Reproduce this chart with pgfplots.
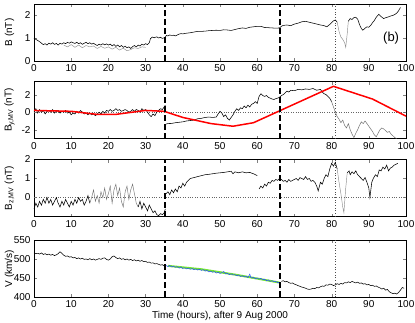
\documentclass[border=0pt]{standalone}
\usepackage{fontspec}
\setmainfont{Liberation Sans}
\usepackage{pgfplots}
\pgfplotsset{compat=1.18}

\definecolor{mlred}{rgb}{1,0,0}
\definecolor{fitgreen}{rgb}{0.45,0.9,0.2}
\definecolor{datblue}{rgb}{0.15,0.3,1}

\pgfplotsset{
  panel/.style={
    scale only axis, width=372pt, height=57pt, anchor=north west,
    xmin=0, xmax=100, xtick={0,10,...,100},
    tick align=inside, major tick length=3pt,
    ticklabel style={font=\fontsize{10}{12}\selectfont},
    label style={font=\fontsize{10}{12}\selectfont},
    /pgf/number format/assume math mode=true,
    ylabel style={at={(axis description cs:-0.066,0.5)}, anchor=center},
    axis line style={line width=0.5pt},
  },
  trace/.style={black, line width=0.55pt},
  faint/.style={black!45, line width=0.45pt},
  event/.style={black, line width=2pt, dash pattern=on 6pt off 3pt},
  mark81/.style={black!70, line width=0.7pt, dotted},
  zero/.style={black!60, line width=0.4pt, dotted},
}

\begin{document}
\begin{tikzpicture}
% ---- B ----
\begin{axis}[panel, at={(0pt,0pt)}, ymin=0, ymax=2.5, ytick={0,1,2}, ylabel={B (nT)}]
  \addplot[mark81] coordinates {(81,0) (81,2.5)};
  \addplot[faint] coordinates {
    (8,0.70) (9,0.62) (10,0.72) (11,0.60) (12,0.70) (13,0.58) (14,0.68) (15,0.62)
    (16,0.66) (17,0.55) (18,0.64) (19,0.56) (20,0.62) (21,0.52) (22,0.60) (23,0.48)
    (24,0.56) (25,0.45) (26,0.50) (27,0.58) (28,0.55) (29,0.62) (30,0.60)
  };
  \addplot[trace] coordinates {
    (0,1.00) (0.5,0.95) (1,0.90) (1.5,0.85) (2,0.78) (2.5,0.72) (3,0.76) (3.5,0.70)
    (4,0.78) (4.5,0.74) (5,0.80) (5.5,0.73) (6,0.77) (6.5,0.70) (7,0.78) (7.5,0.74)
    (8,0.80) (8.5,0.76) (9,0.82) (9.5,0.78) (10,0.84) (10.5,0.80) (11,0.77) (11.5,0.82)
    (12,0.76) (12.5,0.80) (13,0.73) (13.5,0.78) (14,0.82) (14.5,0.76) (15,0.80) (15.5,0.74)
    (16,0.78) (16.5,0.72) (17,0.68) (17.5,0.74) (18,0.70) (18.5,0.76) (19,0.71) (19.5,0.75)
    (20,0.70) (20.5,0.74) (21,0.66) (21.5,0.72) (22,0.64) (22.5,0.70) (23,0.62) (23.5,0.68)
    (24,0.60) (24.5,0.65) (25,0.58) (25.5,0.62) (26,0.55) (26.5,0.63) (27,0.68) (27.5,0.62)
    (28,0.70) (28.5,0.66) (29,0.74) (29.5,0.70) (30,0.76) (30.5,0.72) (31,0.80) (31.3,0.98)
    (31.8,1.05) (32.3,1.02) (33,1.06) (33.5,1.01) (34,1.04) (34.5,0.99) (35,1.02) (35.3,1.05)
    (35.6,1.12) (36,1.10) (36.5,1.14) (37,1.12) (37.5,1.13) (38,1.10) (38.5,1.14) (39,1.18)
    (39.5,1.20) (40,1.19) (41,1.22) (42,1.24) (43,1.27) (44,1.30) (45,1.30) (46,1.31)
    (47,1.33) (48,1.34) (49,1.35) (50,1.34) (51,1.37) (52,1.36) (53,1.34) (54,1.38)
    (55,1.42) (56,1.45) (57,1.43) (58,1.48) (59,1.50) (60,1.52) (61,1.52) (62,1.47)
    (63,1.46) (64,1.45) (65,1.44) (66,1.45) (66.5,1.52) (67,1.56) (68,1.58) (69,1.55)
    (70,1.62) (71,1.66) (72,1.72) (73,1.74) (74,1.70) (75,1.66) (76,1.62) (77,1.58)
    (78,1.55) (78.7,1.50) (79.5,1.60) (80,1.68) (80.5,1.76) (81,1.80) (81.5,1.70)
  };
  \addplot[faint] coordinates {
    (81.5,1.70) (82,1.30) (82.5,1.05) (83,0.95) (83.5,0.80) (83.8,0.60) (84.2,1.20) (84.5,1.75)
  };
  \addplot[trace] coordinates {
    (84.5,1.75) (85,1.86) (85.5,1.82) (86,1.90) (86.5,1.92) (87,1.84) (87.5,1.60) (88,1.42)
    (88.4,1.35) (89,1.44) (89.5,1.50) (90,1.48) (90.5,1.56) (91,1.68) (91.5,1.78) (92,1.92)
    (92.7,2.05) (93.3,1.95) (94,1.86) (94.5,1.90) (95,1.92) (95.5,1.95) (96,1.98) (96.5,2.00)
    (97,2.04) (97.5,2.10) (98,2.20) (98.5,2.35)
  };
  \addplot[event] coordinates {(35.3,0) (35.3,2.5)};
  \addplot[event] coordinates {(66,0) (66,2.5)};
  \node[font=\fontsize{13}{15}\selectfont] at (axis cs:96,1.0) {(b)};
\end{axis}

% ---- By,MV ----
\begin{axis}[panel, at={(0pt,-77.5pt)}, ymin=-3, ymax=3.5, ytick={-2,0,2},
  ylabel={B\textsubscript{y,MV} (nT)}]
  \addplot[zero] coordinates {(0,0) (100,0)};
  \addplot[mark81] coordinates {(81,-3) (81,3.5)};
  \addplot[trace] coordinates {
    (0,0.1) (0.5,0.4) (1,-0.1) (1.5,0.3) (2,0.0) (2.5,0.2) (3,-0.2) (3.5,0.1)
    (4,0.2) (4.5,0.0) (5,0.3) (5.5,-0.1) (6,0.1) (6.5,0.2) (7,-0.1) (7.5,0.1)
    (8,0.0) (8.5,0.2) (9,-0.1) (9.5,0.0) (10,-0.3) (10.5,-0.1) (11,-0.2) (11.5,0.1)
    (12,-0.1) (12.5,0.2) (13,0.0) (13.5,-0.2) (14,-0.1) (14.5,-0.3) (15,-0.1) (15.5,-0.3)
    (16,-0.2) (16.5,-0.4) (17,-0.2) (17.5,0.0) (18,-0.2) (18.5,0.1) (19,-0.1) (19.5,0.2)
    (20,0.1) (20.5,0.3) (21,0.1) (21.5,0.2) (22,0.4) (22.5,0.2) (23,0.3) (23.5,0.1)
    (24,0.2) (24.5,0.3) (25,0.2) (25.5,0.0) (26,0.1) (26.5,0.3) (27,0.1) (27.5,0.3)
    (28,0.2) (28.5,0.0) (29,0.4) (29.5,0.2) (30,0.3) (30.5,0.0) (31,-0.3) (31.5,-0.5)
    (32,-0.2) (32.5,-0.4) (33,0.0) (33.5,0.2) (34,0.4) (34.5,0.3) (35,0.6) (35.3,0.8)
  };
  \addplot[trace] coordinates {
    (35.5,-1.35) (36,-1.30) (37,-1.28) (38,-1.20) (39,-1.15) (40,-1.10) (41,-1.00) (42,-0.95)
    (43,-0.90) (44,-0.75) (45,-0.70) (46,-0.60) (47,-0.55) (48,-0.60) (49,-0.55) (49.5,-0.2)
    (50,0.1) (50.5,-0.1) (51,-0.5) (51.5,-0.3) (52,-0.7) (52.5,-0.9) (53,-0.6) (53.5,-0.3)
    (54,0.1) (54.5,0.4) (55,0.2) (55.5,0.5) (56,0.4) (56.5,0.7) (57,0.5) (57.5,0.8)
    (58,0.6) (58.5,0.9) (59,1.0) (59.5,1.2) (60,1.0) (60.5,1.8) (61,2.1) (61.5,1.9)
    (62,1.8) (62.5,1.9) (63,1.7) (63.5,1.6) (64,1.5) (64.5,1.45) (65,1.55) (65.5,1.6)
    (66,1.7) (66.5,1.9) (67,2.0) (67.5,2.2) (68,2.4) (68.5,2.3) (69,2.5) (70,2.45)
    (71,2.6) (72,2.55) (73,2.65) (74,2.6) (75,2.7) (76,2.5) (77,2.6) (77.5,2.3)
    (78,2.1) (78.5,2.0) (79,1.8) (79.5,1.6) (80,1.2)
  };
  \addplot[black!55, line width=0.5pt] coordinates {
    (80,1.2) (80.5,0.6) (81,0.0) (81.5,-0.5) (82,-0.8) (82.5,-1.2) (83,-0.9) (83.5,-1.5)
    (84,-1.8) (84.5,-1.3) (85,-2.0) (85.5,-2.5) (86,-2.9) (86.5,-2.4) (87,-2.0) (87.5,-1.5)
    (88,-1.1) (88.5,-1.3) (89,-1.0) (89.5,-1.3) (90,-1.6) (90.5,-1.9) (91,-2.2) (91.5,-2.6)
    (92,-2.8) (92.5,-2.4) (93,-2.0) (93.5,-1.8) (94,-1.9) (94.5,-2.1) (95,-2.3) (95.5,-2.2)
    (96,-2.5) (96.5,-2.7) (97,-2.9) (97.5,-3.0)
  };
  \addplot[mlred, line width=1.5pt] coordinates {
    (0,0.2) (10,0.1) (17,-0.25) (22,-0.25) (30,0.2) (35,0.1) (40,-0.6) (47.6,-1.3)
    (53.5,-1.6) (59,-1.2) (80.5,2.95) (91,1.5) (100,-0.45)
  };
  \addplot[event] coordinates {(35.3,-3) (35.3,3.5)};
  \addplot[event] coordinates {(66,-3) (66,3.5)};
\end{axis}

% ---- Bz,MV ----
\begin{axis}[panel, at={(0pt,-155.5pt)}, ymin=-1, ymax=2, ytick={0,1,2},
  ylabel={B\textsubscript{z,MV} (nT)}]
  \addplot[zero] coordinates {(0,0) (100,0)};
  \addplot[mark81] coordinates {(81,-1) (81,2)};
  \addplot[trace] coordinates {
    (0,-0.6) (0.5,-0.3) (1,-0.5) (1.5,-0.2) (2,-0.4) (2.5,-0.1) (3,-0.3) (3.5,0.0)
    (4,-0.3) (4.5,-0.1) (5,-0.4) (5.5,-0.2) (6,0.0) (6.5,-0.3) (7,-0.5) (7.5,-0.2)
    (8,-0.4) (8.5,-0.1) (9,-0.3) (9.5,-0.5) (10,-0.2) (10.5,-0.4) (11,-0.1) (11.5,-0.3)
    (12,0.0) (12.5,-0.2) (13,-0.1) (13.5,-0.4) (14,-0.2) (14.5,0.1) (15,-0.3)
  };
  \addplot[black!55, line width=0.45pt] coordinates {
    (15,-0.3) (15.5,0.0) (16,0.4) (16.5,-0.2) (17,0.1) (17.5,-0.3) (18,0.3) (18.5,0.0)
    (19,0.5) (19.5,-0.1) (20,0.2) (20.5,0.6) (21,-0.3) (21.5,0.4) (22,0.7) (22.5,0.1)
    (23,0.5) (23.5,-0.2) (24,-0.5) (24.5,0.3) (25,0.6) (25.5,-0.1) (26,0.4) (26.5,0.7)
    (27,0.2) (27.5,-0.3) (28,-0.5)
  };
  \addplot[trace] coordinates {
    (28,-0.5) (28.5,-0.2) (29,-0.6) (29.5,-0.3) (30,-0.5) (30.5,-0.7) (31,-0.4) (31.5,-0.6)
    (32,-0.8) (32.5,-0.7) (33,-0.9) (33.5,-0.95) (34,-0.85) (34.5,-0.9) (35,-0.8) (35.3,-0.6)
  };
  \addplot[trace] coordinates {
    (35.5,0.2) (36,0.3) (36.5,0.15) (37,0.4) (37.5,0.25) (38,0.45) (38.5,0.3) (39,0.6)
    (39.5,0.5) (40,0.75) (40.5,0.6) (41,0.8) (41.5,0.9) (42,1.0) (43,1.05) (44,1.1)
    (45,1.15) (46,1.2) (47,1.22) (48,1.25) (49,1.28) (50,1.3) (51,1.32) (52,1.35)
    (53,1.38) (53.5,1.25) (54,1.35) (55,1.3) (56,1.35) (57,1.3) (58,1.32) (59,1.25) (60,1.15)
  };
  \addplot[trace] coordinates {
    (60.5,0.45) (61,0.6) (61.5,0.5) (62,0.7) (62.5,0.6) (63,0.8) (63.5,0.75) (64,0.9)
    (64.5,0.85) (65,0.95) (65.5,0.9) (66,1.0) (66.5,0.95) (67,0.85) (67.5,0.9) (68,0.8)
    (68.5,0.95) (69,0.85) (69.5,0.9) (70,0.95) (70.5,1.0) (71,0.9) (71.5,1.05) (72,1.0)
    (72.5,0.95) (73,1.1) (73.5,0.95) (74,1.0) (74.5,0.85) (75,0.9) (75.5,0.8) (76,0.6)
    (76.4,0.35) (77,0.8) (77.5,0.7) (78,1.0) (78.5,1.2) (79,1.1) (79.5,1.5) (80,1.8)
    (80.5,1.65) (81,1.85) (81.5,1.5)
  };
  \addplot[faint] coordinates {
    (81.5,1.5) (82,0.8) (82.5,0.2) (83,-0.5) (83.3,-0.8) (83.8,0.5) (84.2,1.3)
  };
  \addplot[trace] coordinates {
    (84.2,1.3) (84.7,1.4) (85,1.2) (85.5,1.35) (86,1.25) (86.5,1.4) (87,1.2) (87.5,1.1)
    (88,1.0) (88.5,0.9) (89,1.05) (89.5,0.8) (90,0.5) (90.3,0.0) (90.8,0.8) (91.2,1.0)
    (91.8,1.2) (92.3,1.1) (92.8,1.45) (93.3,1.4) (93.8,1.6) (94.3,1.5) (94.8,1.7) (95.3,1.4)
    (95.8,1.55) (96.3,1.6) (96.8,1.7) (97.3,1.75) (97.8,1.8)
  };
  \addplot[event] coordinates {(35.3,-1) (35.3,2)};
  \addplot[event] coordinates {(66,-1) (66,2)};
\end{axis}

% ---- V ----
\begin{axis}[panel, at={(0pt,-236pt)}, ymin=400, ymax=550, ytick={400,450,500,550},
  ylabel={V (km/s)}, xlabel={Time (hours), after 9 Aug 2000},
  xlabel style={yshift=3pt}]
  \addplot[mark81] coordinates {(81,400) (81,550)};
  \addplot[trace] coordinates {
    (0,516) (0.5,514) (1,515) (1.5,513) (2,516) (2.5,512) (3,514) (3.5,511)
    (4,513) (4.5,510) (5,512) (5.5,509) (6,511) (6.5,514) (7,519) (7.5,515)
    (8,510) (8.5,507) (9,508) (9.5,505) (10,506) (10.5,503) (11,504) (11.5,501)
    (12,503) (12.5,500) (13,502) (13.5,499) (14,500) (14.5,498) (15,501) (15.5,498)
    (16,500) (16.5,497) (17,499) (17.5,501) (18,499) (18.5,502) (19,503) (19.5,499)
    (20,497) (20.5,500) (21,506) (21.5,508) (22,504) (22.5,501) (23,503) (23.5,499)
    (24,501) (24.5,498) (25,500) (25.5,497) (26,499) (26.5,496) (27,498) (27.5,495)
    (28,497) (28.5,494) (29,496) (29.5,493) (30,494) (30.5,491) (31,492) (31.5,489)
    (32,490) (32.5,487) (33,488) (33.5,486) (34,484) (34.5,485) (35,482) (35.3,481)
  };
  \addplot[fitgreen, line width=2pt] coordinates {
    (36,482) (45,473) (54,459) (66,438)
  };
  \addplot[datblue, line width=0.5pt] coordinates {
    (35.5,483) (36,480) (36.5,483) (37,479) (37.5,481) (38,478) (38.5,480) (39,476)
    (39.5,479) (40,475) (40.5,477) (41,474) (41.5,476) (42,473) (42.5,475) (43,472)
    (43.5,474) (44,471) (44.5,473) (45,470) (45.5,472) (46,468) (46.5,470) (47,466)
    (47.5,468) (48,465) (48.5,467) (49,463) (49.5,465) (50,462) (50.5,464) (51,467)
    (51.5,461) (52,462) (52.5,459) (53,461) (53.5,458) (54,459) (54.5,456) (55,458)
    (55.5,454) (56,456) (56.5,453) (57,455) (57.5,451) (58,460) (58.3,451) (58.5,450)
    (59,452) (59.5,448) (60,450) (60.5,447) (61,449) (61.5,445) (62,447) (62.5,443)
    (63,445) (63.5,441) (64,443) (64.5,440) (65,441) (65.5,438) (66,439)
  };
  \addplot[trace] coordinates {
    (66.5,441) (67,443) (67.5,440) (68,441) (68.5,438) (69,436) (69.5,437) (70,434)
    (70.5,432) (71,430) (71.5,428) (72,426) (72.5,425) (73,423) (73.5,421) (74,420)
    (74.5,421) (75,423) (75.5,422) (76,425) (76.5,424) (77,427) (77.5,429) (78,428)
    (78.5,432) (79,431) (79.5,434) (80,433) (80.5,430) (81,432) (81.5,435) (82,433)
    (82.5,436) (83,434) (83.5,438) (84,437) (84.5,440) (85,438) (85.5,441) (86,439)
    (86.5,437) (87,439) (87.5,436) (88,437) (88.5,434) (89,435) (89.5,432) (90,433)
    (90.5,430) (91,431) (91.5,428) (92,429) (92.5,426) (93,424) (93.5,421) (94,423)
    (94.5,418) (95,420) (95.5,414) (96,411) (96.5,409) (97,410) (97.5,408) (98,412)
    (98.5,418) (99,425) (99.5,423)
  };
  \addplot[event] coordinates {(35.3,400) (35.3,550)};
  \addplot[event] coordinates {(66,400) (66,550)};
\end{axis}

\pgfresetboundingbox
\path (-34pt,4pt) rectangle (381pt,-318pt);
\end{tikzpicture}
\end{document}
